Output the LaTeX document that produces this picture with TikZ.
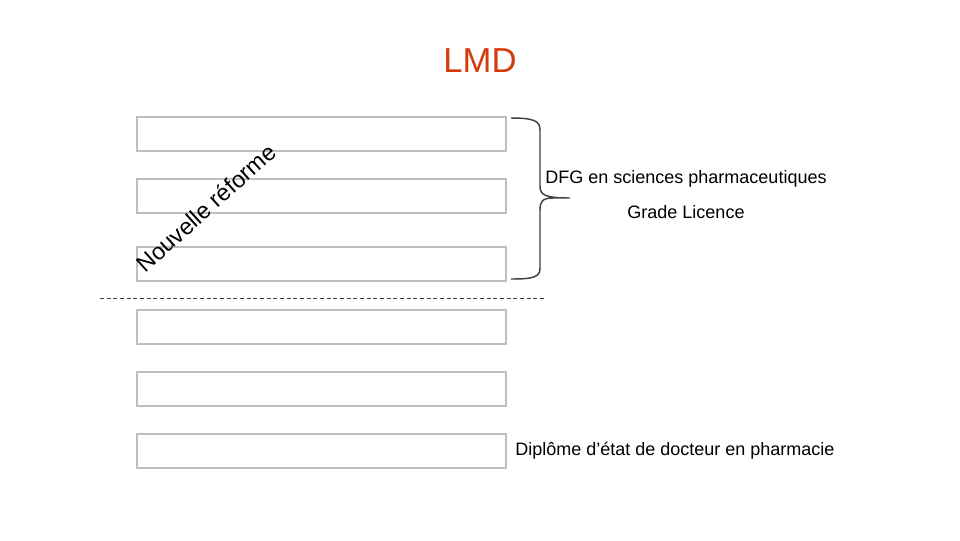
\documentclass[tikz,border=0pt]{standalone}
\usepackage{fontspec}
\setmainfont{Liberation Sans}
\usetikzlibrary{positioning}

\definecolor{lmdred}{RGB}{214,58,10}
\definecolor{boxgray}{RGB}{191,191,191}
\definecolor{bracegray}{RGB}{64,64,64}

\tikzset{
  yearbox/.style={draw=boxgray,line width=1.5pt,minimum width=276.75pt,minimum height=25.5pt,inner sep=0pt},
  sidetext/.style={font=\fontsize{13.5}{16}\selectfont,inner sep=0pt}
}

\begin{document}
\begin{tikzpicture}[x=0.75pt,y=-0.75pt]
      % page frame, in pixels of the slide
      \useasboundingbox[fill=white] (0,0) rectangle (960,540);

      \node[text=lmdred,font=\fontsize{26}{30}\selectfont] (title) at (480,61) {LMD};

      \node[yearbox] (year1) at (321.5,134) {};
      \node[yearbox] (year2) at (321.5,196) {};
      \node[yearbox] (year3) at (321.5,264) {};
      \node[yearbox] (year4) at (321.5,327) {};
      \node[yearbox] (year5) at (321.5,389) {};
      \node[yearbox] (year6) at (321.5,451) {};

      % separation between the two cycles
      \coordinate (sepleft) at (100,298);
      \coordinate (sepright) at (545,298);
      \draw[bracegray,line width=0.6pt,dash pattern=on 3pt off 2pt] (sepleft) -- (sepright);

      \node[rotate=42,font=\fontsize{17.5}{20}\selectfont] (reform) at (206,208) {Nouvelle réforme};

      % brace on the first three years
      \coordinate (bracetop) at (511,118);
      \coordinate (bracebot) at (511,279);
      \coordinate (bracetip) at (570,198);
      \draw[bracegray,line width=1.1pt] (bracetop) .. controls (534,118) and (540,121) .. (540,130)
            -- (540,186) .. controls (540,195) and (545,198) .. (bracetip)
            -- (553,198) .. controls (542,198) and (540,202) .. (540,210)
            -- (540,268) .. controls (540,277) and (534,279) .. (bracebot);

      \node[sidetext] (dfg) at (686,179) {DFG en sciences pharmaceutiques};
      \node[sidetext] (grade) at (686,212) {Grade Licence};

      \node[sidetext,right=6pt of year6] (diplome) {Diplôme d’état de docteur en pharmacie};
\end{tikzpicture}
\end{document}
